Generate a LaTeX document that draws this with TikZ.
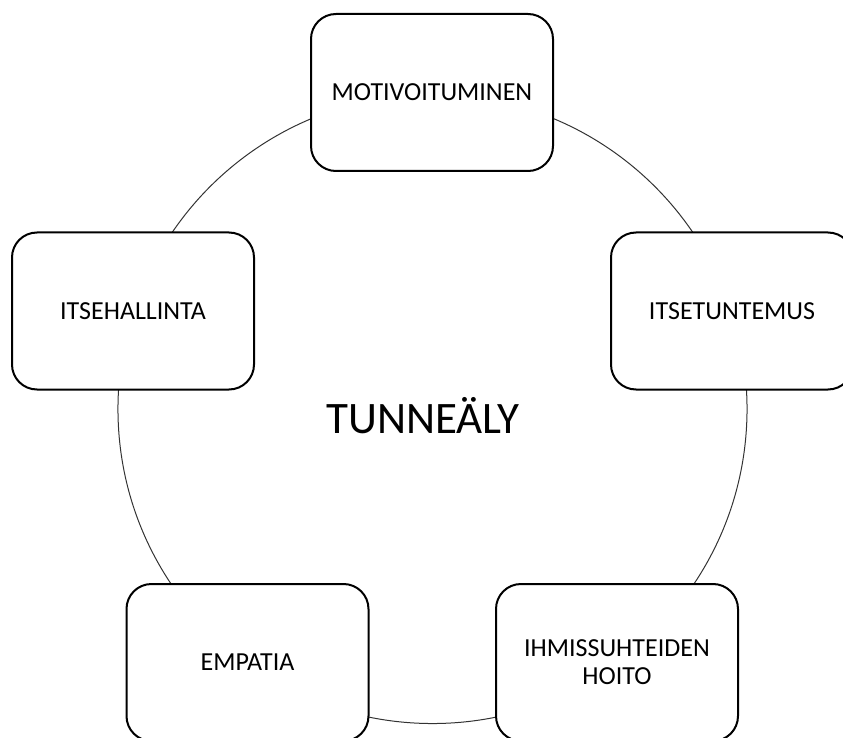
\documentclass[tikz,border=0pt]{standalone}
\usepackage{fontspec}
\setmainfont{Carlito}
\usetikzlibrary{positioning, calc}
\tikzset{
    %Define style for boxes
    laatikko/.style={
           rectangle,
           rounded corners=18.75pt,
           draw=black, line width=1.5pt,
           fill=white,
           minimum width=181.5pt,
           minimum height=117.75pt,
           align=center,
           font=\fontsize{19.5}{21}\selectfont},
    % Define ring style
    rengas/.style={
           draw=black!80,
           line width=0.75pt}
}
\begin{document}
\begin{tikzpicture}[x=0.75pt, y=-0.75pt]
	\clip (0,0) rectangle (843,738);
	\useasboundingbox (0,0) rectangle (843,738);
	%
	% kehä
	%
	\coordinate (keskus) at (432.5,409);
	\draw[rengas] (keskus) circle (235.9pt);
	%
	% solmut
	%
	\node[laatikko] (motiv) at (432,92.5) {MOTIVOITUMINEN};
	\node[laatikko] (tunt) at (732,311) {ITSETUNTEMUS};
	\node[laatikko] (hall) at (133,311) {ITSEHALLINTA};
	\node[laatikko] (empatia) at (247.5,662.5) {EMPATIA};
	\node[laatikko] (hoito) at (617,662.5) {IHMISSUHTEIDEN\\HOITO};
	\node[anchor=base, font=\fontsize{33.75}{40}\selectfont] (tunnealy) at (423,433) {TUNNEÄLY};
\end{tikzpicture}
\end{document}
